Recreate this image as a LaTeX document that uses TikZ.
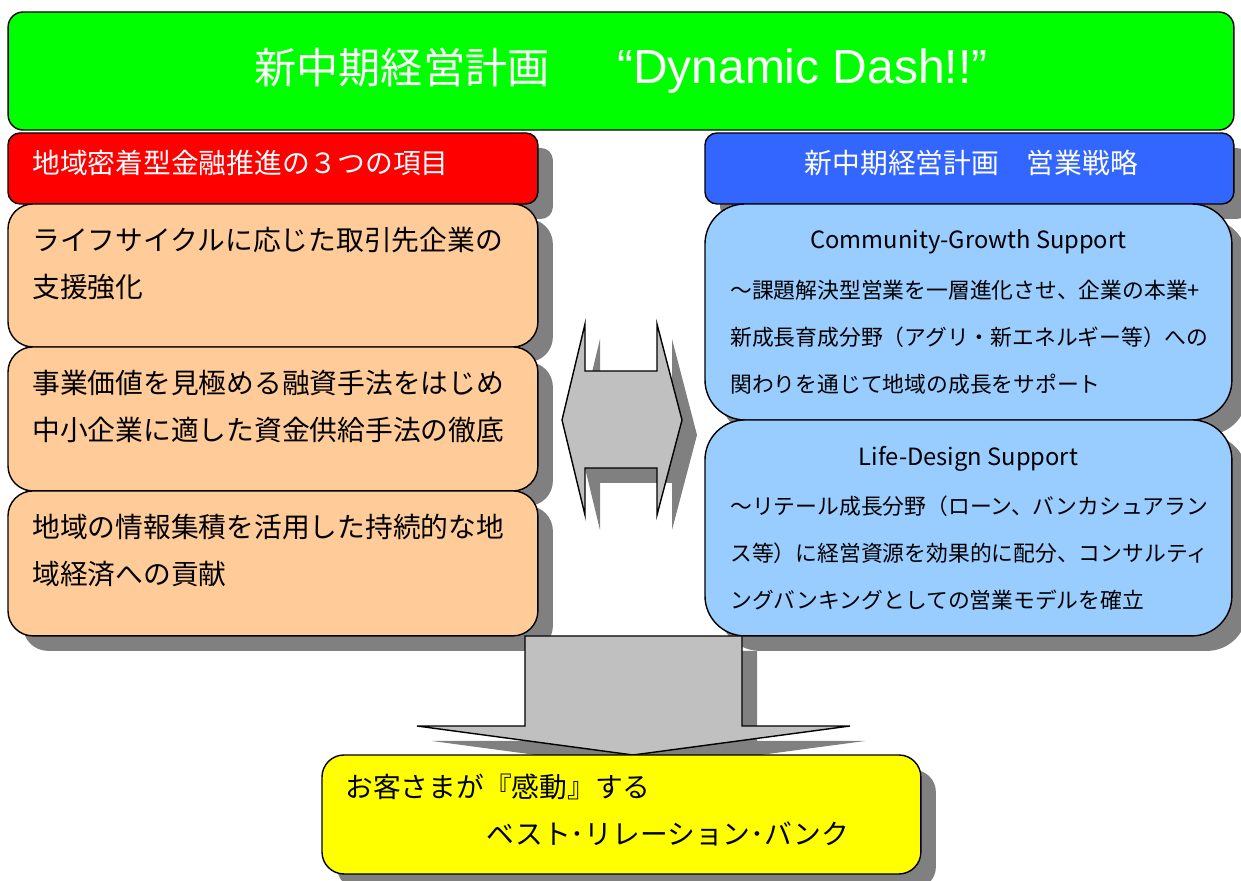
\documentclass[tikz,border=0pt]{standalone}
\usepackage{fontspec}
\setmainfont{Noto Sans CJK JP}
\newfontfamily\latinfont{Liberation Sans}
\usetikzlibrary{positioning,shadows}

\definecolor{titlegreen}{HTML}{00FF00}
\definecolor{headred}{HTML}{FF0000}
\definecolor{headblue}{HTML}{3366FF}
\definecolor{itemorange}{HTML}{FFCC99}
\definecolor{planblue}{HTML}{99CCFF}
\definecolor{goalyellow}{HTML}{FFFF00}
\definecolor{arrowgray}{HTML}{C0C0C0}
\definecolor{shadowgray}{HTML}{808080}

\tikzset{
  boxshadow/.style={drop shadow={shadow xshift=0.3cm, shadow yshift=-0.3cm, fill=shadowgray, opacity=1}},
  panel/.style={draw=black, thick, inner sep=0pt, outer sep=0pt},
  headbox/.style={panel, boxshadow, rounded corners=0.24cm, minimum width=10.6cm, minimum height=1.42cm},
  itembox/.style={panel, boxshadow, fill=itemorange, rounded corners=0.5cm, minimum width=10.6cm},
  planbox/.style={panel, boxshadow, fill=planblue, rounded corners=0.8cm, minimum width=10.54cm, minimum height=4.32cm},
  blockarrow/.style={draw=black, thick, fill=arrowgray, boxshadow},
  bigtext/.style={font=\fontsize{15.8}{26.6}\selectfont, inner sep=0pt, align=left},
  smalltext/.style={font=\fontsize{12.4}{26.6}\selectfont, inner sep=0pt, align=left},
  supporttitle/.style={font=\fontsize{13.5}{16}\selectfont, inner sep=0pt},
}

\begin{document}
\begin{tikzpicture}[x=0.02cm, y=-0.02cm]
\useasboundingbox (0,0) rectangle (1241,881);

% Title
\node[panel, fill=titlegreen, rounded corners=0.3cm, minimum width=24.52cm, minimum height=2.36cm,
  font=\fontsize{24}{28}\selectfont, text=white] (title) at (621,71)
  {新中期経営計画\hspace{1.6em}{\latinfont\fontsize{27.3}{28}\selectfont “Dynamic Dash!!”}};

% Left column
\node[headbox, fill=headred, anchor=north west] (lefthead) at (8,133) {};
\node[bigtext, text=white, anchor=west] (lefthead-label) at ([shift={(24,-6)}]lefthead.west)
  {地域密着型金融推進の３つの項目};

\node[itembox, minimum height=2.86cm, below=0pt of lefthead] (item1) {};
\node[bigtext, anchor=north west] (item1-label) at ([shift={(24,23)}]item1.north west)
  {ライフサイクルに応じた取引先企業の\\支援強化};

\node[itembox, minimum height=2.88cm, below=0pt of item1] (item2) {};
\node[bigtext, anchor=north west] (item2-label) at ([shift={(24,23)}]item2.north west)
  {事業価値を見極める融資手法をはじめ\\中小企業に適した資金供給手法の徹底};

\node[itembox, minimum height=2.9cm, below=0pt of item2] (item3) {};
\node[bigtext, anchor=north west] (item3-label) at ([shift={(24,23)}]item3.north west)
  {地域の情報集積を活用した持続的な地\\域経済への貢献};

% Right column
\node[headbox, fill=headblue, minimum width=10.58cm, anchor=north west] (righthead) at (705,133) {};
\node[bigtext, text=white] (righthead-label) at ([shift={(2,-6)}]righthead.center)
  {新中期経営計画　営業戦略};

\node[planbox, anchor=north west] (plan1) at (705,204) {};
\node[supporttitle] (plan1-title) at ([yshift=-38*0.02cm]plan1.north) {Community-Growth Support};
\node[smalltext, anchor=north west] (plan1-label) at ([shift={(25,76)}]plan1.north west)
  {〜課題解決型営業を一層進化させ、企業の本業+\\新成長育成分野（アグリ・新エネルギー等）への\\関わりを通じて地域の成長をサポート};

\node[planbox, below=0pt of plan1] (plan2) {};
\node[supporttitle] (plan2-title) at ([yshift=-39*0.02cm]plan2.north) {Life-Design Support};
\node[smalltext, anchor=north west] (plan2-label) at ([shift={(25,76)}]plan2.north west)
  {〜リテール成長分野（ローン、バンカシュアラン\\ス等）に経営資源を効果的に配分、コンサルティ\\ングバンキングとしての営業モデルを確立};

% Arrows
\draw[blockarrow] (585,324) -- (585,371) -- (657,371) -- (657,324) -- (682,420)
  -- (657,515) -- (657,468) -- (585,468) -- (585,515) -- (562,420) -- cycle;
\draw[blockarrow] (525,636) -- (742,636) -- (742,726) -- (850,726) -- (633,755)
  -- (417,726) -- (525,726) -- cycle;

% Goal
\node[panel, boxshadow, fill=goalyellow, rounded corners=0.44cm, minimum width=11.98cm,
  minimum height=2.38cm, anchor=north west] (goal) at (322,755) {};
\node[bigtext, anchor=north west] (goal-label) at ([shift={(23,19)}]goal.north west)
  {お客さまが『感動』する\\\hspace*{5.1em}ベスト･リレーション･バンク};
\end{tikzpicture}
\end{document}
